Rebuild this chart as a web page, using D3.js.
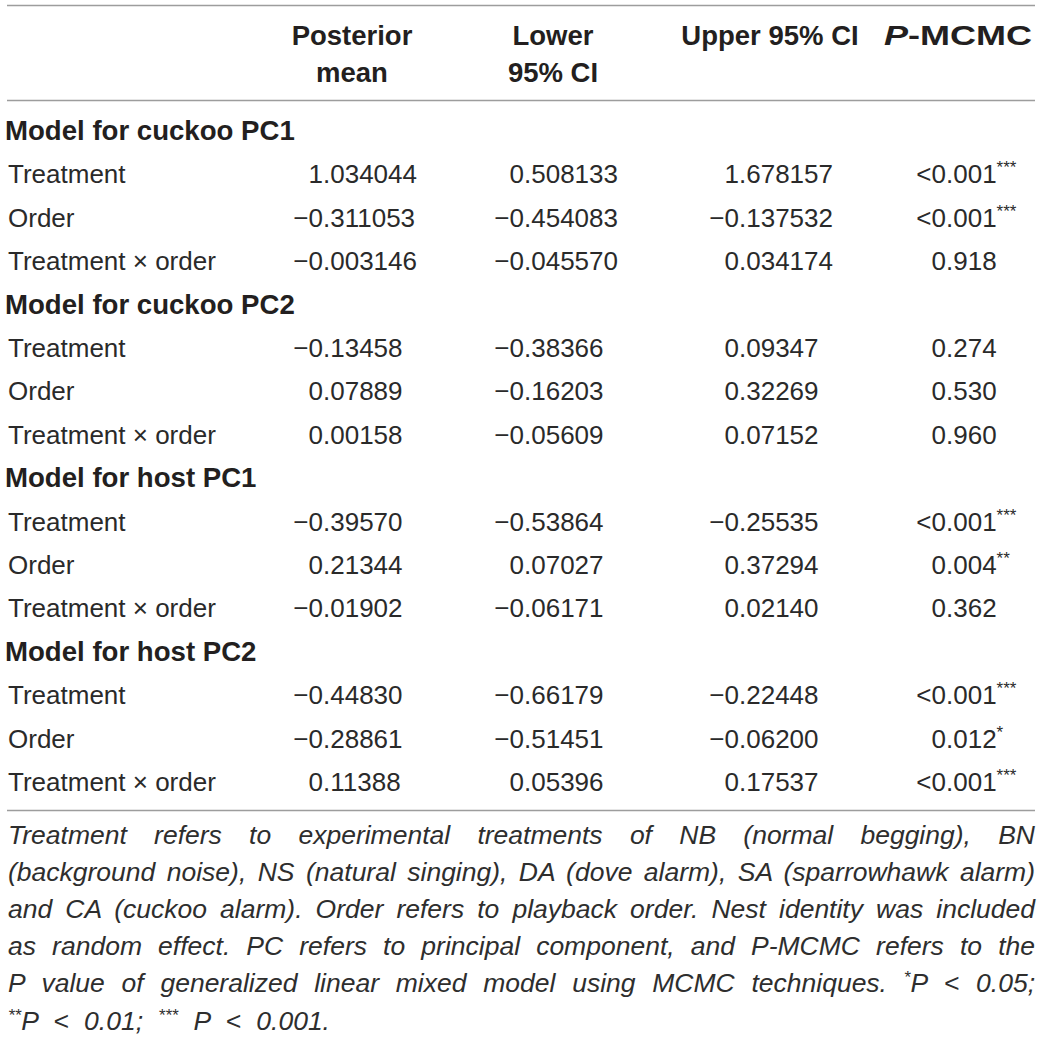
<!DOCTYPE html>
<html>
<head>
<meta charset="utf-8">
<script src="https://cdnjs.cloudflare.com/ajax/libs/d3/7.8.5/d3.min.js"></script>
<style>
  html, body { margin: 0; padding: 0; background: #fff; }
  svg { display: block; }
</style>
</head>
<body>
<script>
var w = 1042;
var h = 1040;

// ---- data ----
var groups = ["Model for cuckoo PC1", "Model for cuckoo PC2", "Model for host PC1", "Model for host PC2"];
var groupDecimals = [6, 5, 5, 5];
var terms = ["Treatment", "Order", "Treatment \u00d7 order"];
var posteriorMean = [1.034044, -0.311053, -0.003146, -0.13458, 0.07889, 0.00158, -0.39570, 0.21344, -0.01902, -0.44830, -0.28861, 0.11388];
var lowerCI = [0.508133, -0.454083, -0.045570, -0.38366, -0.16203, -0.05609, -0.53864, 0.07027, -0.06171, -0.66179, -0.51451, 0.05396];
var upperCI = [1.678157, -0.137532, 0.034174, 0.09347, 0.32269, 0.07152, -0.25535, 0.37294, 0.02140, -0.22448, -0.06200, 0.17537];
var pValues = ["<0.001", "<0.001", "0.918", "0.274", "0.530", "0.960", "<0.001", "0.004", "0.362", "<0.001", "0.012", "<0.001"];
var pStars = ["***", "***", "", "", "", "", "***", "**", "", "***", "*", "***"];

var footLines = [
  "Treatment refers to experimental treatments of NB (normal begging), BN",
  "(background noise), NS (natural singing), DA (dove alarm), SA (sparrowhawk alarm)",
  "and CA (cuckoo alarm). Order refers to playback order. Nest identity was included",
  "as random effect. PC refers to principal component, and P-MCMC refers to the",
  "P value of generalized linear mixed model using MCMC techniques. *P < 0.05;",
  "**P < 0.01; *** P < 0.001."
];

var font = "'Liberation Sans', Arial, Helvetica, sans-serif";
var textCol = "#231f20";
var lineCol = "#9d9d9d";

var svg = d3.select("body").append("svg")
    .attr("width", w)
    .attr("height", h);

// build row list: group header then its terms
var rows = [];
groups.forEach(function (g, gi) {
    rows.push({type: "group", label: g});
    terms.forEach(function (t, ti) {
        rows.push({type: "term", label: t, idx: gi * terms.length + ti, dec: groupDecimals[gi]});
    });
});

var y = d3.scaleLinear().domain([0, rows.length - 1]).range([140, 791]);

//-----rules------
[5.5, 100.5, 810.5].forEach(function (ly) {
    svg.append("line")
        .attr("x1", 7).attr("x2", 1035)
        .attr("y1", ly).attr("y2", ly)
        .attr("stroke", lineCol)
        .attr("stroke-width", 1.6);
});

//-----header-----
var hdr = svg.append("g")
    .attr("font-family", font)
    .attr("font-weight", "bold")
    .attr("font-size", 27.5)
    .attr("fill", textCol)
    .attr("text-anchor", "middle");

hdr.append("text").attr("x", 352).attr("y", 45).text("Posterior");
hdr.append("text").attr("x", 352).attr("y", 82).text("mean");
hdr.append("text").attr("x", 553).attr("y", 45).text("Lower");
hdr.append("text").attr("x", 553).attr("y", 82).text("95% CI");
hdr.append("text").attr("x", 770).attr("y", 45).text("Upper 95% CI");
var pm = hdr.append("text")
    .attr("x", 884).attr("y", 45)
    .attr("text-anchor", "start")
    .attr("textLength", 148)
    .attr("lengthAdjust", "spacingAndGlyphs");
pm.append("tspan").attr("font-style", "italic").text("P");
pm.append("tspan").text("-MCMC");

//-----body------
// decimal point positions for the four value columns
var decX = [323, 524, 739, 946];
var fmt = {};
groupDecimals.forEach(function (d) { fmt[d] = d3.format("." + d + "f"); });

function decimalCell(g, x, yy, str, stars) {
    var p = str.indexOf(".");
    g.append("text")
        .attr("x", x).attr("y", yy)
        .attr("text-anchor", "end")
        .text(str.slice(0, p));
    var t = g.append("text")
        .attr("x", x).attr("y", yy)
        .text(str.slice(p));
    if (stars) {
        t.append("tspan")
            .attr("font-size", 17)
            .attr("dy", -10)
            .text(stars);
    }
}

var body = svg.append("g")
    .attr("font-family", font)
    .attr("fill", textCol);

rows.forEach(function (r, i) {
    var yy = y(i);
    if (r.type === "group") {
        body.append("text")
            .attr("x", 5).attr("y", yy)
            .attr("font-weight", "bold")
            .attr("font-size", 27.6)
            .text(r.label);
        return;
    }
    var g = body.append("g").attr("font-size", 26).attr("fill", "#2a2a2a");
    g.append("text").attr("x", 8).attr("y", yy).text(r.label);
    var f = fmt[r.dec];
    decimalCell(g, decX[0], yy, f(posteriorMean[r.idx]));
    decimalCell(g, decX[1], yy, f(lowerCI[r.idx]));
    decimalCell(g, decX[2], yy, f(upperCI[r.idx]));
    decimalCell(g, decX[3], yy, pValues[r.idx], pStars[r.idx]);
});

//-----footnote------
var foot = svg.append("g")
    .attr("font-family", font)
    .attr("font-style", "italic")
    .attr("font-size", 26.5)
    .attr("fill", "#2e2e2e");

var footLeft = 8, footRight = 1035, lastWidth = 322;
footLines.forEach(function (line, i) {
    var t = foot.append("text")
        .attr("x", footLeft)
        .attr("y", 844 + i * 37.1)
        .attr("xml:space", "preserve");
    // split into runs of stars (superscript) and normal text
    var runs = line.match(/\*+|[^*]+/g);
    var raised = false;
    runs.forEach(function (run) {
        var s = t.append("tspan").text(run);
        if (run[0] === "*") {
            s.attr("font-size", 17).attr("dy", raised ? 0 : -9);
            raised = true;
        } else if (raised) {
            s.attr("dy", 9);
            raised = false;
        }
    });
    var natural = t.node().getComputedTextLength();
    var target = (i < footLines.length - 1) ? footRight - footLeft : lastWidth;
    var spaces = (line.match(/ /g) || []).length;
    if (natural < target) {
        t.attr("word-spacing", (target - natural) / spaces);
    } else {
        t.attr("textLength", target).attr("lengthAdjust", "spacingAndGlyphs");
    }
});
</script>
</body>
</html>
